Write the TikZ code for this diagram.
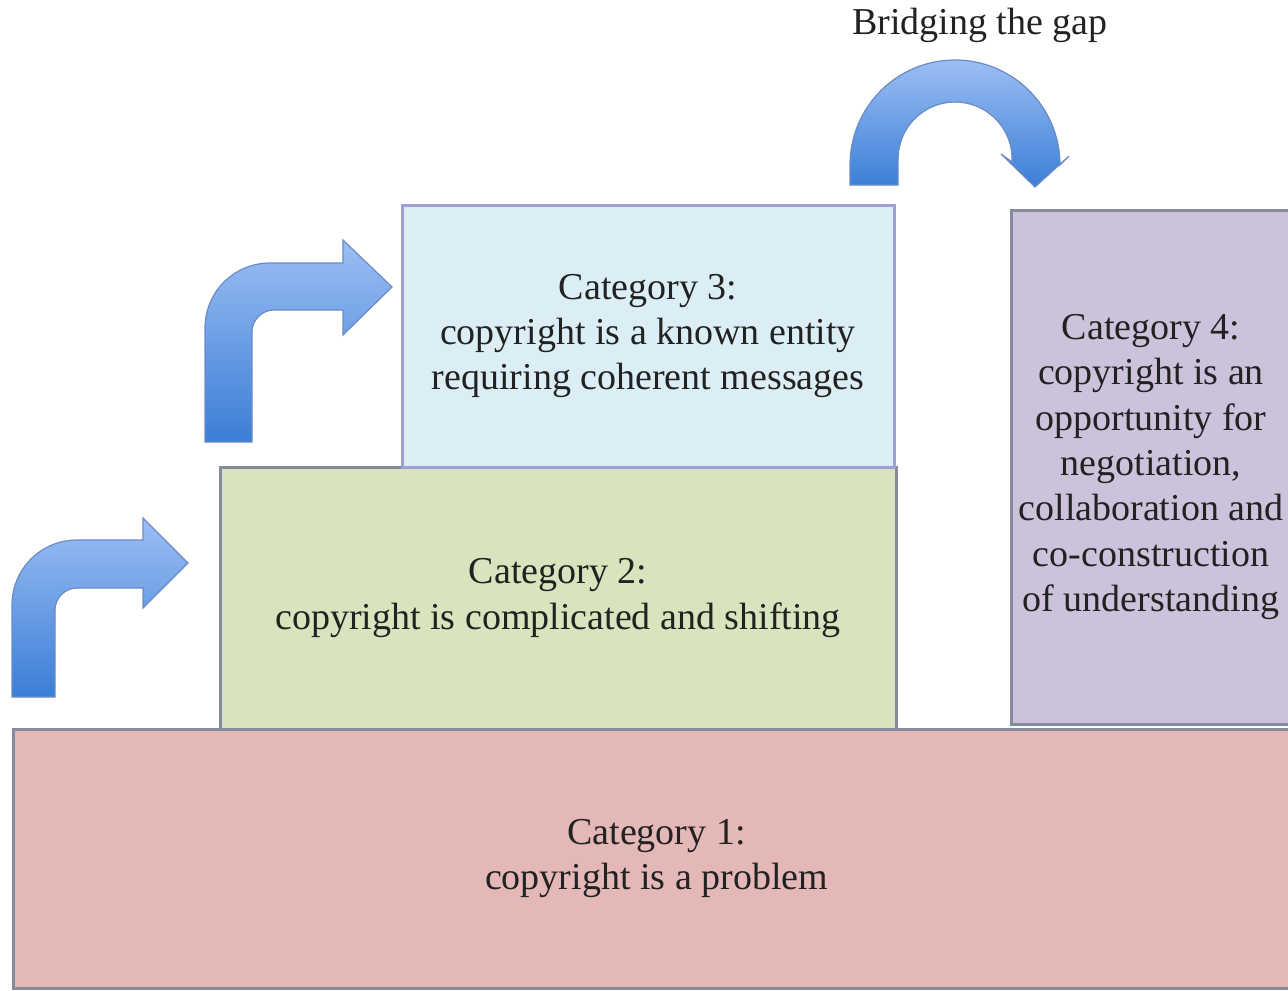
\documentclass[tikz,border=0pt]{standalone}
\usepackage{fontspec}
\setmainfont{Liberation Serif}
\usetikzlibrary{shadows}
\definecolor{arrtop}{HTML}{9CBEF4}
\definecolor{arrbot}{HTML}{3B7ED6}
\definecolor{arredge}{HTML}{6A8CC4}
\definecolor{boxedge}{HTML}{868B9C}
\definecolor{cOne}{HTML}{E5B8B8}
\definecolor{cTwo}{HTML}{D7E4BD}
\definecolor{cThree}{HTML}{DCEEF5}
\definecolor{cFour}{HTML}{CCC2DB}
\definecolor{txt}{HTML}{222222}
\tikzset{
  catbox/.style={draw=boxedge, line width=1.5pt, inner sep=0pt, align=center,
    text=txt, font=\fontsize{19}{22.7}\selectfont,
    drop shadow={shadow xshift=0.8pt, shadow yshift=-0.8pt, opacity=0.35}},
  bluearrow/.style={draw=arredge, line width=0.6pt, top color=arrtop, bottom color=arrbot}
}
\begin{document}
\begin{tikzpicture}[x=0.5pt,y=-0.5pt]
\useasboundingbox (0,0) rectangle (1288,990);
\clip (0,0) rectangle (1288,990);
\fill[white] (0,0) rectangle (1288,990);

% boxes
\node[catbox, fill=cOne, minimum width=643.5pt, minimum height=129.5pt] (c1) at (656.5,858.5)
  {Category 1:\\copyright is a problem};
\node[catbox, fill=cTwo, minimum width=338pt, minimum height=131pt] (c2) at (558,598)
  {Category 2:\\copyright is complicated and shifting};
\node[catbox, fill=cThree, draw=boxedge!70!blue!60, minimum width=246pt, minimum height=131pt] (c3) at (648,336)
  {Category 3:\\copyright is a known entity\\requiring coherent messages};
\node[catbox, fill=cFour, minimum width=140pt, minimum height=257pt] (c4) at (1151,467)
  {Category 4:\\copyright is an\\opportunity for\\negotiation,\\collaboration and\\co-construction\\of understanding};

% arrow 1
\path[bluearrow] (12,697) -- (12,605) .. controls (12,569) and (41,540) .. (77,540)
  -- (143,540) -- (143,518) -- (188,563) -- (143,608) -- (143,588) -- (77,588)
  .. controls (65,588) and (55,598) .. (55,610) -- (55,697) -- cycle;
% arrow 2
\path[bluearrow] (205,442) -- (205,328) .. controls (205,292) and (234,263) .. (270,263)
  -- (343,263) -- (343,240) -- (392,287) -- (343,335) -- (343,310) -- (274,310)
  .. controls (262,310) and (252,320) .. (252,332) -- (252,442) -- cycle;
% arrow 3 (bridging)
\path[bluearrow] (850,185) -- (850,165) arc[start angle=180, end angle=360, radius=105]
  -- (1069,156) -- (1035,187) -- (1001,154) -- (1012,162)
  arc[start angle=363, end angle=180, radius=57] -- (898,185) -- cycle;

\node[text=txt, font=\fontsize{19}{22.7}\selectfont] (bg) at (980,25) {Bridging the gap};
\end{tikzpicture}
\end{document}
